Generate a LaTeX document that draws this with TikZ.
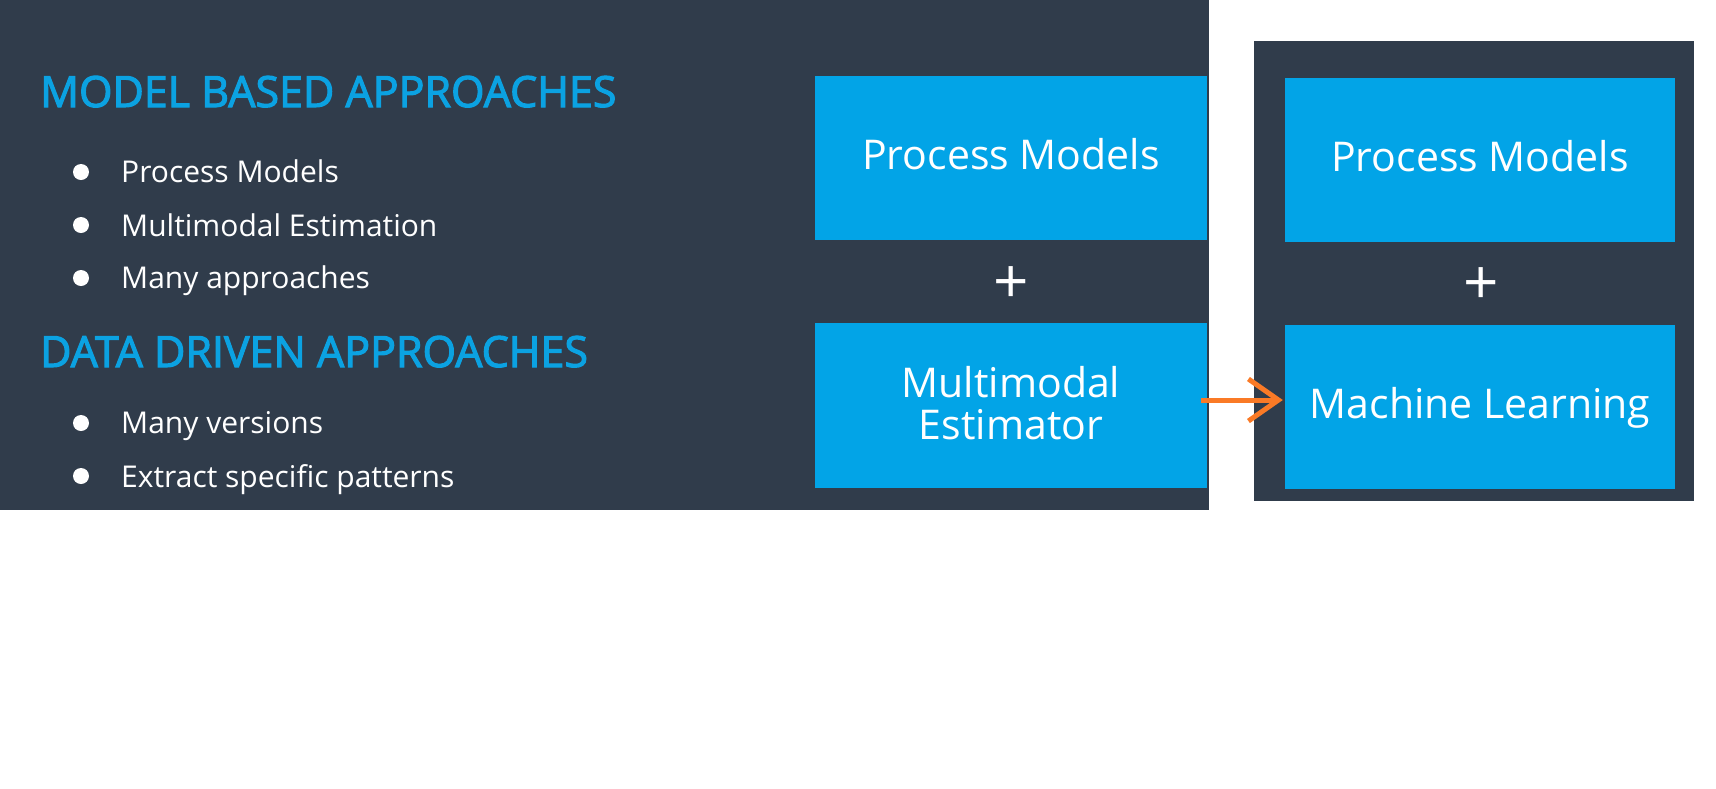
\documentclass[tikz,border=0pt]{standalone}
\usepackage{fontspec}
\setmainfont{Open Sans}
\newfontfamily\headfont[FakeBold=2.5]{Open Sans}
\usetikzlibrary{arrows.meta}
\definecolor{panelbg}{HTML}{303C4B}
\definecolor{boxblue}{HTML}{02A4E7}
\definecolor{headblue}{HTML}{0BA2E2}
\definecolor{arrowor}{HTML}{FA7A26}
\tikzset{
  panel/.style={fill=panelbg},
  box/.style={fill=boxblue, draw=none, text=white, minimum width=392pt, minimum height=164pt, inner sep=0pt, align=center, font=\fontsize{41}{42}\selectfont},
  onerow/.style={text height=30pt, text depth=7pt},
  head/.style={anchor=base west, text=headblue, inner sep=0pt, font=\headfont\fontsize{43}{43}\selectfont},
  item/.style={anchor=base west, text=white, inner sep=0pt, font=\fontsize{30}{30}\selectfont},
  dot/.style={circle, fill=white, minimum size=16pt, inner sep=0pt},
  plussign/.style={text=white, inner sep=0pt, font=\fontsize{62}{62}\selectfont},
  flow/.style={draw=arrowor, line width=5pt, -{Straight Barb[length=30pt,width=42pt]}}
}
\begin{document}
\begin{tikzpicture}[x=1pt,y=-1pt]
\useasboundingbox[fill=white] (0,0) rectangle (1716,788);
\fill[panel] (0,0) rectangle (1209,510);
\fill[panel] (1254,41) rectangle (1694,501);
% left list
\node[head] (h1) at (40,107) {MODEL BASED APPROACHES};
\node[dot] (d1) at (81,172) {};
\node[item] (t1) at (121,182) {Process Models};
\node[dot] (d2) at (81,225) {};
\node[item] (t2) at (121,236) {Multimodal Estimation};
\node[dot] (d3) at (81,278) {};
\node[item] (t3) at (121,288) {Many approaches};
\node[head] (h2) at (40,367) {DATA DRIVEN APPROACHES};
\node[dot] (d4) at (81,423) {};
\node[item] (t4) at (121,433) {Many versions};
\node[dot] (d5) at (81,476) {};
\node[item] (t5) at (121,487) {Extract specific patterns};
% boxes
\node[box, onerow] (lt) at (1011,158) {Process Models};
\node[plussign] (lp) at (1011,285.5) {+};
\node[box, minimum height=165pt] (lb) at (1011,405.5) {Multimodal\\Estimator\rule[-6pt]{0pt}{0pt}};
\node[box, onerow, minimum width=390pt] (rt) at (1480,160) {Process Models};
\node[plussign] (rp) at (1481,286.5) {+};
\node[box, onerow, minimum width=390pt] (rb) at (1480,407) {Machine Learning};
\draw[flow] ([xshift=-6pt,yshift=5.5pt]lb.east) -- ([xshift=-2pt,yshift=7pt]rb.west);
\end{tikzpicture}
\end{document}
